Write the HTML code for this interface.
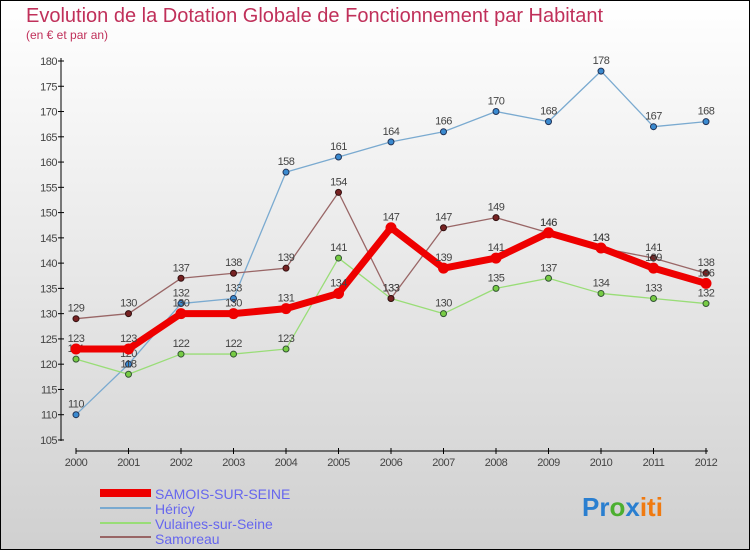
<!DOCTYPE html>
<html><head><meta charset="utf-8"><style>
body{margin:0}
#c{width:750px;height:550px;position:relative;overflow:hidden;box-sizing:border-box;border:1px solid #000;background:linear-gradient(#ffffff,#d0d0d0);font-family:"Liberation Sans",sans-serif}
</style></head><body>
<div id="c">
<svg id="s" width="750" height="550" style="position:absolute;left:-1px;top:-1px">
<text x="26" y="22" font-size="20" fill="#c0305a">Evolution de la Dotation Globale de Fonctionnement par Habitant</text>
<text x="26" y="39" font-size="12" fill="#c0305a">(en € et par an)</text>
<g id="axes"></g><g id="series"></g>
<g>
<rect x="100" y="489" width="51" height="8" fill="#e00"/>
<text x="155" y="499" font-size="14" fill="#6666ee">SAMOIS-SUR-SEINE</text>
<rect x="100" y="507" width="51" height="2" fill="#7aaad0"/>
<text x="155" y="514" font-size="14" fill="#6666ee">Héricy</text>
<rect x="100" y="522" width="51" height="2" fill="#99dd77"/>
<text x="155" y="529" font-size="14" fill="#6666ee">Vulaines-sur-Seine</text>
<rect x="100" y="536" width="51" height="2" fill="#996666"/>
<text x="155" y="544" font-size="14" fill="#6666ee">Samoreau</text>
</g>
<text x="582" y="516" font-size="26" font-weight="bold"><tspan fill="#2a7fd0">Pr</tspan><tspan fill="#4caf30">o</tspan><tspan fill="#2a7fd0">x</tspan><tspan fill="#f07a10">iti</tspan></text>
</svg>
</div>
<script>
const years=[2000,2001,2002,2003,2004,2005,2006,2007,2008,2009,2010,2011,2012];
const yTicks=[105,110,115,120,125,130,135,140,145,150,155,160,165,170,175,180];
const samois=[123,123,130,130,131,134,147,139,141,146,143,139,136];
const hericy=[110,120,132,133,158,161,164,166,170,168,178,167,168];
const vulaines=[121,118,122,122,123,141,133,130,135,137,134,133,132];
const samoreau=[129,130,137,138,139,154,133,147,149,146,143,141,138];
const NS="http://www.w3.org/2000/svg";
const X=i=>76+i*52.5, Y=v=>61+(180-v)*5.053;
function mk(t,a,p){const e=document.createElementNS(NS,t);for(const k in a)e.setAttribute(k,a[k]);p.appendChild(e);return e;}
const ax=document.getElementById('axes');
let yl=mk('line',{x1:61,y1:58,x2:61,y2:441,stroke:'#000'},ax);


let xl=mk('line',{x1:76,y1:451,x2:708,y2:451,stroke:'#000'},ax);


yTicks.forEach(v=>{mk('line',{x1:58,x2:64,y1:Y(v),y2:Y(v),stroke:'#000'},ax);
 const t=mk('text',{x:57,y:Y(v)+4,'font-size':11,fill:'#444','text-anchor':'end','letter-spacing':'-0.5'},ax);t.textContent=v;
 
 });
years.forEach((y,i)=>{mk('line',{x1:X(i),x2:X(i),y1:448,y2:454,stroke:'#000'},ax);
 const t=mk('text',{x:X(i),y:466,'font-size':11,fill:'#444','text-anchor':'middle','letter-spacing':'-0.5'},ax);t.textContent=y;
 
 });
const sg=document.getElementById('series');
function series(data,color,w,dot,dotStroke,r,name){
 const g=mk('g',{},sg);
 
 
 mk('polyline',{points:data.map((v,i)=>X(i)+','+Y(v)).join(' '),fill:'none',stroke:color,'stroke-width':w,'stroke-linejoin':'round'},g);
 data.forEach((v,i)=>{const c=mk('circle',{cx:X(i),cy:Y(v),r:r,fill:dot,stroke:dotStroke},g);
  
  
  const t=mk('text',{x:X(i),y:Y(v)-7,'font-size':11,fill:'#444','text-anchor':'middle','letter-spacing':'-0.5'},g);t.textContent=v;
  
  });
}
series(hericy,'#7aaad0',1.3,'#3a8ad0','#235',3,'series-hericy');
series(vulaines,'#99dd77',1.3,'#77cc44','#353',3,'series-vulaines');
series(samoreau,'#996666',1.3,'#772222','#311',3,'series-samoreau');
series(samois,'#ee0000',7,'#ee0000','#ee0000',5,'series-samois');
</script>
</body></html>
